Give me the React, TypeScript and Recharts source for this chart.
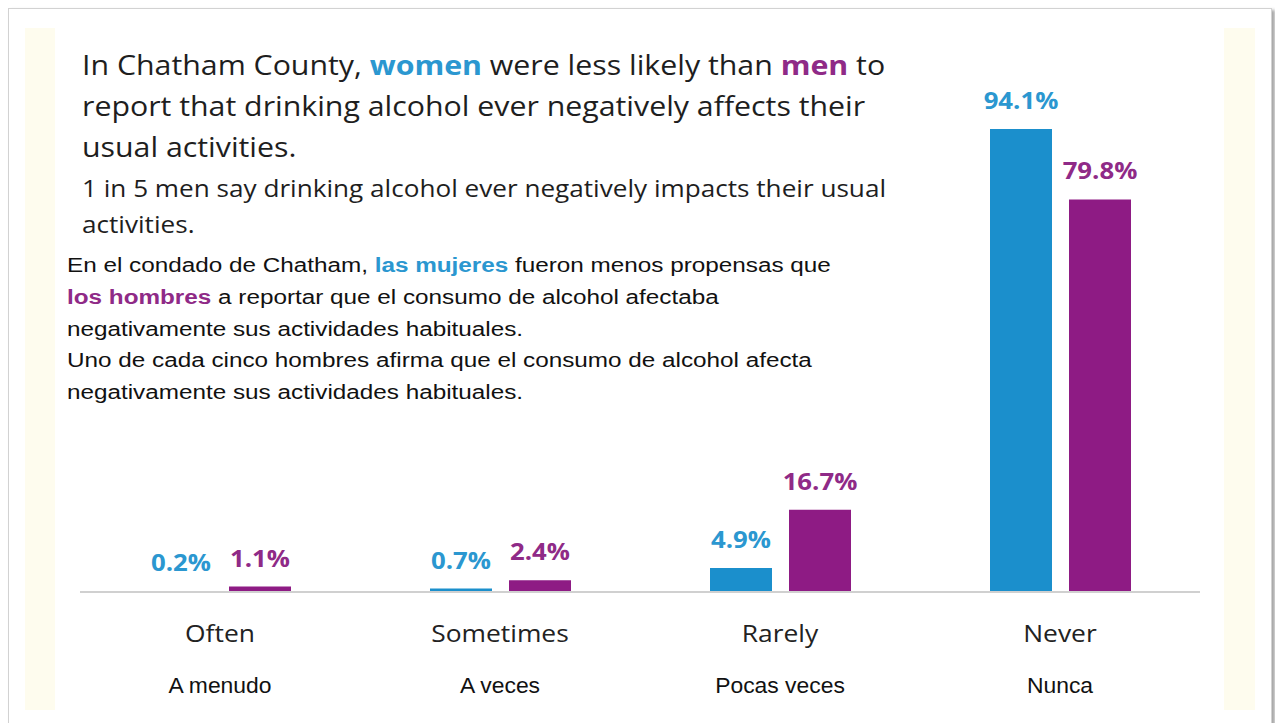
import { BarChart, Bar, XAxis, YAxis, LabelList } from "recharts";

const categories = ["Often", "Sometimes", "Rarely", "Never"];
const categoriesEs = ["A menudo", "A veces", "Pocas veces", "Nunca"];
const women = [0.2, 0.7, 4.9, 94.1];
const men = [1.1, 2.4, 16.7, 79.8];

const BLUE = "#1b8fcc";
const PURPLE = "#8e1b84";
const BLUE_TXT = "#2b97d0";
const PURPLE_TXT = "#8f2a87";

const data = categories.map((c, i) => ({
  cat: c,
  es: categoriesEs[i],
  women: women[i],
  men: men[i],
}));

const fmt = (v: any) => `${Number(v).toFixed(1)}%`;

const en = "'Open Sans', sans-serif";
const es = "'Liberation Sans', Arial, sans-serif";

// the source image is a bit wider than these fonts, so stretch text sideways
const stretch = (cx: number, k: number) =>
  `translate(${cx},0) scale(${k},1) translate(${-cx},0)`;

function Tick(props: any) {
  const { x, y, payload, index } = props;
  return (
    <g>
      <text
        x={x}
        y={y + 50}
        textAnchor="middle"
        fontFamily={en}
        fontSize={24}
        fill="#222"
        transform={stretch(x, 1.1)}
      >
        {payload.value}
      </text>
      <text
        x={x}
        y={y + 101}
        textAnchor="middle"
        fontFamily={es}
        fontSize={22}
        fill="#111"
        transform={stretch(x, 1.04)}
      >
        {categoriesEs[index]}
      </text>
    </g>
  );
}

const makeLabel = (color: string) => (props: any) => {
  const { x, y, width, value } = props;
  const cx = x + width / 2;
  return (
    <text
      x={cx}
      y={y - 20}
      textAnchor="middle"
      fontFamily={en}
      fontWeight={700}
      fontSize={23}
      fill={color}
      transform={stretch(cx, 1.12)}
    >
      {fmt(value)}
    </text>
  );
};

export default function App() {
  return (
    <div
      style={{
        position: "absolute",
        left: 0,
        top: 0,
        width: 1275,
        height: 723,
        overflow: "hidden",
        background: "#fff",
      }}
    >
      <div
        style={{
          position: "absolute",
          left: 8,
          top: 8,
          width: 1262,
          height: 730,
          border: "1px solid #d2d2d2",
          boxShadow: "3px 2px 3px rgba(0,0,0,0.35)",
          background: "#fff",
        }}
      />
      <div
        style={{
          position: "absolute",
          left: 25,
          top: 28,
          width: 1230,
          height: 682,
          background: "#fefcee",
        }}
      />
      <div
        style={{
          position: "absolute",
          left: 55,
          top: 28,
          width: 1169,
          height: 682,
          background: "#fff",
        }}
      />
      <div style={{ position: "absolute", left: 0, top: 0 }}>
        <BarChart
          width={1275}
          height={723}
          data={data}
          margin={{ top: 100, right: 75, bottom: 31, left: 80 }}
          barSize={62}
          barGap={17}
        >
          <XAxis
            dataKey="cat"
            height={100}
            axisLine={{ stroke: "#d0d0d0", strokeWidth: 2 }}
            tickLine={false}
            tickSize={0}
            tickMargin={0}
            interval={0}
            tick={<Tick />}
          />
          <YAxis hide domain={[0, 100]} />
          <Bar dataKey="women" fill={BLUE} isAnimationActive={false}>
            <LabelList dataKey="women" content={makeLabel(BLUE_TXT)} />
          </Bar>
          <Bar dataKey="men" fill={PURPLE} isAnimationActive={false}>
            <LabelList dataKey="men" content={makeLabel(PURPLE_TXT)} />
          </Bar>
        </BarChart>
      </div>
      <svg
        width={1275}
        height={723}
        style={{ position: "absolute", left: 0, top: 0, pointerEvents: "none" }}
      >
        <g fontFamily={en} fill="#1e1e1e" fontSize={27} transform={stretch(82, 1.123)}>
          <text x={82} y={75}>
            In Chatham County,{" "}
            <tspan fill={BLUE_TXT} fontWeight={700}>women</tspan> were less
            likely than <tspan fill={PURPLE_TXT} fontWeight={700}>men</tspan> to
          </text>
          <text x={82} y={116}>
            report that drinking alcohol ever negatively affects their
          </text>
          <text x={82} y={157}>usual activities.</text>
        </g>
        <g fontFamily={en} fill="#1e1e1e" fontSize={23} transform={stretch(82, 1.137)}>
          <text x={82} y={197}>
            1 in 5 men say drinking alcohol ever negatively impacts their usual
          </text>
          <text x={82} y={233}>activities.</text>
        </g>
        <g fontFamily={es} fill="#111" fontSize={21} transform={stretch(67, 1.157)}>
          <text x={67} y={272}>
            En el condado de Chatham,{" "}
            <tspan fill={BLUE_TXT} fontWeight={700}>las mujeres</tspan> fueron
            menos propensas que
          </text>
          <text x={67} y={304}>
            <tspan fill={PURPLE_TXT} fontWeight={700}>los hombres</tspan> a
            reportar que el consumo de alcohol afectaba
          </text>
          <text x={67} y={336}>negativamente sus actividades habituales.</text>
          <text x={67} y={367}>
            Uno de cada cinco hombres afirma que el consumo de alcohol afecta
          </text>
          <text x={67} y={399}>negativamente sus actividades habituales.</text>
        </g>
      </svg>
    </div>
  );
}
